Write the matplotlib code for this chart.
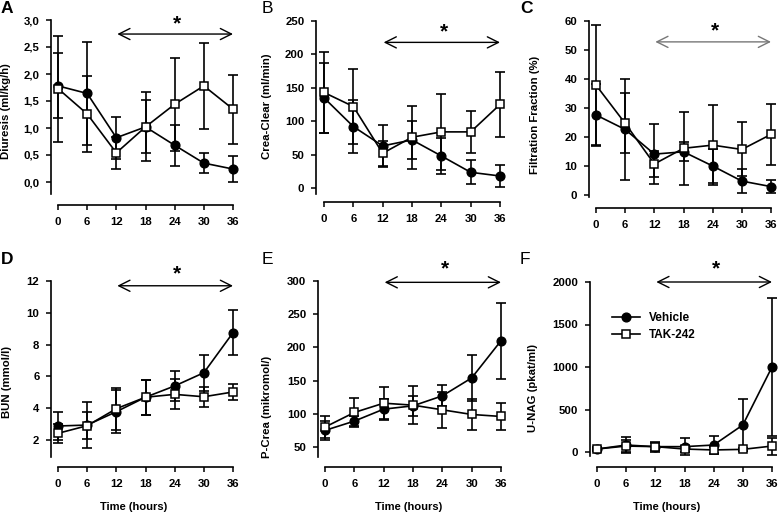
import numpy as np
import matplotlib
matplotlib.use("Agg")
import matplotlib.pyplot as plt
from matplotlib.ticker import FixedLocator, FuncFormatter

plt.rcParams['font.family'] = ['Liberation Sans', 'DejaVu Sans']
plt.rcParams['font.weight'] = 'bold'

#%% data
hours = [0, 6, 12, 18, 24, 30, 36]

diur_veh = [1.78, 1.64, 0.82, 1.02, 0.68, 0.35, 0.24]
diur_veh_sd = [0.60, 0.95, 0.39, 0.64, 0.38, 0.19, 0.24]
diur_tak = [1.73, 1.26, 0.54, 1.02, 1.44, 1.78, 1.35]
diur_tak_sd = [0.98, 0.70, 0.30, 0.49, 0.86, 0.79, 0.64]

crea_veh = [135, 92, 63, 72, 48, 23.5, 18]
crea_veh_sd = [52, 39, 31, 28, 27, 18, 16]
crea_tak = [143, 122, 52, 76, 84, 84, 125]
crea_tak_sd = [60, 56, 19, 47, 57, 31, 48]

ff_veh = [27.6, 22.6, 14.1, 14.9, 10.0, 4.8, 2.9]
ff_veh_sd = [10.7, 17.4, 10.4, 3.3, 6.0, 4.0, 2.2]
ff_tak = [37.9, 24.7, 10.7, 16.1, 17.2, 15.7, 20.9]
ff_tak_sd = [20.7, 10.3, 4.5, 12.5, 13.8, 9.3, 10.5]

bun_veh = [2.88, 2.94, 3.78, 4.69, 5.40, 6.23, 8.75]
bun_veh_sd = [0.86, 1.45, 1.37, 1.10, 0.95, 1.12, 1.43]
bun_tak = [2.42, 2.90, 3.97, 4.69, 4.87, 4.72, 5.02]
bun_tak_sd = [0.60, 0.85, 1.33, 1.10, 0.95, 0.63, 0.53]

pcrea_veh = [75, 89, 107, 112, 127, 154, 210]
pcrea_veh_sd = [14, 8, 15, 15, 16, 35, 57]
pcrea_tak = [80, 102, 116, 113, 106, 99, 96]
pcrea_tak_sd = [17, 22, 25, 29, 27, 23, 20]

nag_veh = [35, 82, 63, 63, 82, 318, 1000]
nag_veh_sd = [20, 95, 60, 100, 110, 310, 810]
nag_tak = [35, 70, 63, 35, 24, 31, 70]
nag_tak_sd = [15, 70, 40, 40, 30, 20, 100]

W, H = 778, 514

#%% helper: put an axes so that its spines land on given pixels
def colocar(fig, xl, x0, x36, yb, vhi, phi, vlo, plo, ybot, top):
    sx = (x36 - x0) / 36
    xr = x36 + 6
    sy = (plo - phi) / (vhi - vlo)
    ax = fig.add_axes([xl / W, 1 - yb / H, (xr - xl) / W, (yb - top) / H])
    ax.set_xlim((xl - x0) / sx, (xr - x0) / sx)
    ax.set_ylim(vlo - (yb - plo) / sy, vhi + (phi - top) / sy)
    ax.spines['left'].set_bounds(vlo - (ybot - plo) / sy, vhi)
    ax.spines['bottom'].set_bounds(0, 36)
    ax.spines['top'].set_visible(False)
    ax.spines['right'].set_visible(False)
    for s in ['left', 'bottom']:
        ax.spines[s].set_linewidth(1.2)
    ax.tick_params(direction='out', length=3.8, width=1.1, labelsize=8.2)
    ax.tick_params(axis='x', pad=5)
    ax.tick_params(axis='y', pad=4.5)
    ax.xaxis.set_major_locator(FixedLocator(hours))
    return ax


def dibujar(ax, veh, veh_sd, tak, tak_sd):
    ax.errorbar(hours, veh, yerr=veh_sd, fmt='none', ecolor='k', elinewidth=1.2,
                capsize=3.6, capthick=1.2, clip_on=False, zorder=2)
    ax.plot(hours, veh, '-o', color='k', lw=1.2, ms=6.3, mfc='k', mec='k',
            clip_on=False, zorder=3, label='Vehicle')
    ax.errorbar(hours, tak, yerr=tak_sd, fmt='none', ecolor='k', elinewidth=1.2,
                capsize=3.6, capthick=1.2, clip_on=False, zorder=4)
    ax.plot(hours, tak, '-s', color='k', lw=1.2, ms=5.6, mfc='white', mec='k',
            mew=1.1, clip_on=False, zorder=5, label='TAK-242')


def flecha(ax, y_arrow, y_star, color='k'):
    ax.annotate('', xy=(36, y_arrow), xytext=(12.2, y_arrow),
                arrowprops=dict(arrowstyle='<->,head_length=0.8,head_width=0.4',
                                color=color, lw=1.0, shrinkA=0, shrinkB=0),
                annotation_clip=False)
    ax.text(24.5, y_star, '*', ha='center', va='center', fontsize=15,
            fontweight='bold', clip_on=False)


def ftext(x, y, s, **kw):
    fig.text(x / W, 1 - y / H, s, **kw)


fig = plt.figure(figsize=(W / 100, H / 100), dpi=100)

# A
axA = colocar(fig, 51, 58, 233, 205, 3.0, 20, 0, 182, 194, 6)
dibujar(axA, diur_veh, diur_veh_sd, diur_tak, diur_tak_sd)
axA.yaxis.set_major_locator(FixedLocator([0, 0.5, 1.0, 1.5, 2.0, 2.5, 3.0]))
axA.yaxis.set_major_formatter(FuncFormatter(lambda v, p: f"{v:.1f}".replace('.', ',')))
flecha(axA, 2.74, 2.92)

# B
axB = colocar(fig, 316, 324, 500, 202, 250, 21, 0, 188, 194, 6)
dibujar(axB, crea_veh, crea_veh_sd, crea_tak, crea_tak_sd)
axB.yaxis.set_major_locator(FixedLocator([0, 50, 100, 150, 200, 250]))
flecha(axB, 218, 234)

# C
axC = colocar(fig, 589, 596, 771, 208, 60, 21, 0, 195, 197, 6)
dibujar(axC, ff_veh, ff_veh_sd, ff_tak, ff_tak_sd)
axC.yaxis.set_major_locator(FixedLocator([0, 10, 20, 30, 40, 50, 60]))
flecha(axC, 52.8, 56.6, color='#777777')

# D
axD = colocar(fig, 51, 58, 233, 467, 12, 281, 2, 440, 457, 262)
dibujar(axD, bun_veh, bun_veh_sd, bun_tak, bun_tak_sd)
axD.yaxis.set_major_locator(FixedLocator([2, 4, 6, 8, 10, 12]))
flecha(axD, 11.7, 12.45)

# E
axE = colocar(fig, 318, 325, 501, 467, 300, 281, 50, 447, 457, 262)
dibujar(axE, pcrea_veh, pcrea_veh_sd, pcrea_tak, pcrea_tak_sd)
axE.yaxis.set_major_locator(FixedLocator([50, 100, 150, 200, 250, 300]))
flecha(axE, 298, 318)

# F
axF = colocar(fig, 590, 597, 772, 467, 2000, 282, 0, 452, 456, 262)
dibujar(axF, nag_veh, nag_veh_sd, nag_tak, nag_tak_sd)
axF.yaxis.set_major_locator(FixedLocator([0, 500, 1000, 1500, 2000]))
flecha(axF, 2000, 2160)
axF.legend(loc='upper left', bbox_to_anchor=(612 / W, 1 - 312 / H),
           bbox_transform=fig.transFigure, frameon=False,
           handlelength=2.4, handletextpad=0.7, labelspacing=0.45,
           borderpad=0, borderaxespad=0, prop={'weight': 'bold', 'size': 8.5})

# panel letters
for x, y, letra, peso in [(1, 1, 'A', 'bold'), (262, 1, 'B', 'normal'), (520, 1, 'C', 'bold'),
                          (1, 252, 'D', 'bold'), (262, 252, 'E', 'normal'), (520, 252, 'F', 'normal')]:
    ftext(x, y, letra, fontsize=12.5, fontweight=peso, va='top', ha='left')

# y labels
for x, y, lab in [(6, 111, 'Diuresis (ml/kg/h)'), (267, 106, 'Crea-Clear (ml/min)'),
                  (535, 115, 'Filtration Fraction (%)'), (7, 382, 'BUN (mmol/l)'),
                  (267, 407, 'P-Crea (mikromol/)'), (533, 388, 'U-NAG (pkat/ml)')]:
    ftext(x, y, lab, rotation=90, fontsize=8.2, fontweight='bold', ha='center', va='center')

# x labels
for x in [134, 409, 667]:
    ftext(x, 507, 'Time (hours)', fontsize=8, fontweight='bold', ha='center', va='center')

fig.savefig('out.png', dpi=100)
